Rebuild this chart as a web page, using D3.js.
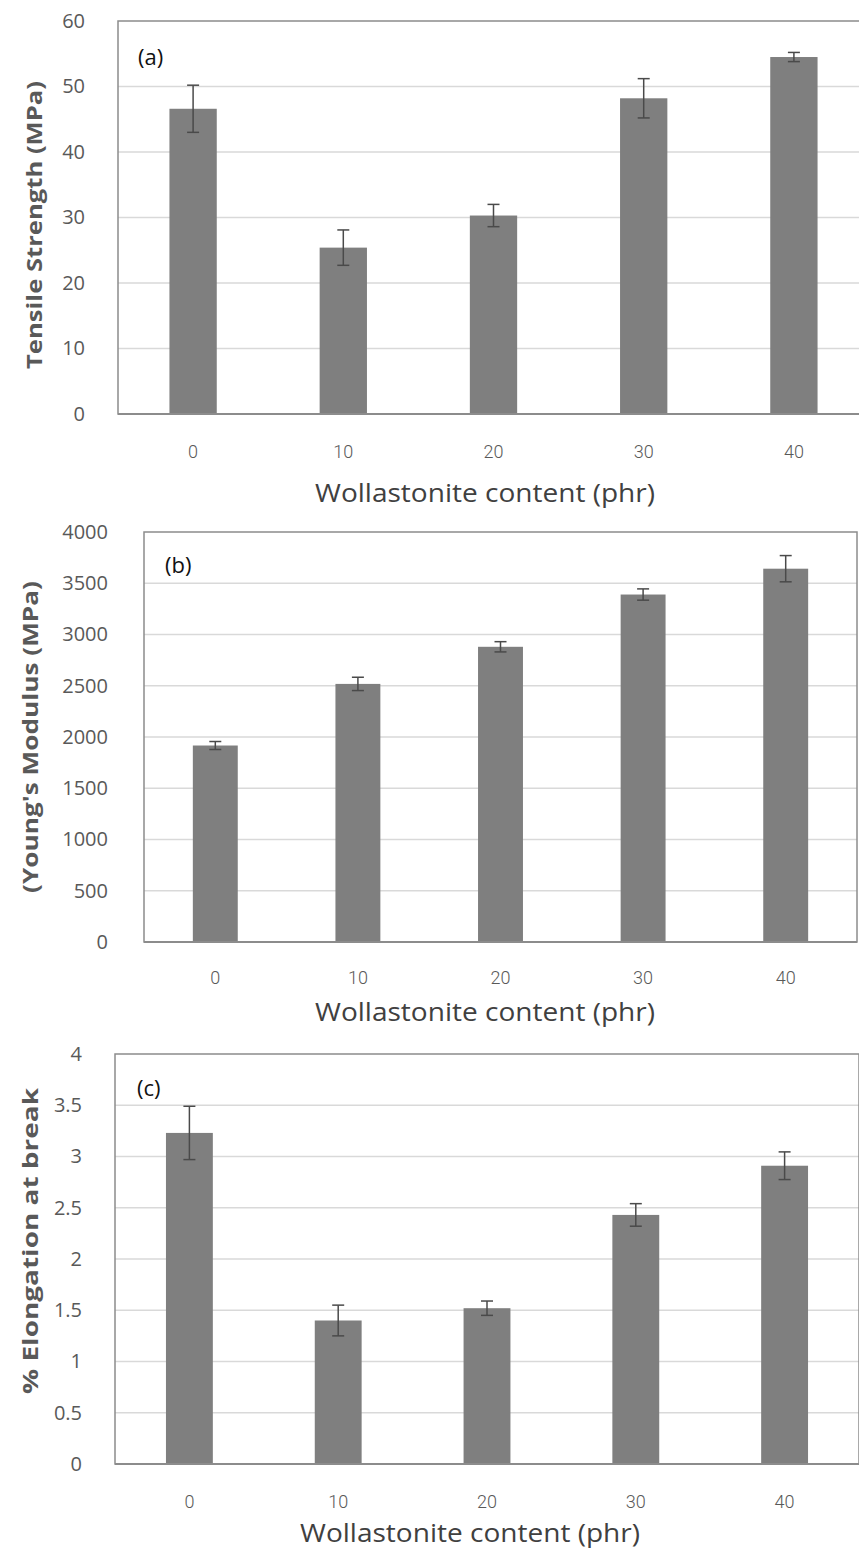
<!DOCTYPE html>
<html>
<head>
<meta charset="utf-8">
<script src="https://cdn.jsdelivr.net/npm/d3@7"></script>
<style>
  body { margin: 0; background: #fff; }
  svg { display: block; }
</style>
</head>
<body>
<div id="chart"></div>
<script>
// wollastonite content (phr)
var categories = ["0", "10", "20", "30", "40"];

// (a) tensile strength, MPa
var tensile = [46.6, 25.4, 30.3, 48.2, 54.5];
var tensileErr = [3.6, 2.7, 1.7, 3.0, 0.7];
var tensileTicks = [0, 10, 20, 30, 40, 50, 60];

// (b) young's modulus, MPa
var modulus = [1917, 2518, 2880, 3390, 3642];
var modulusErr = [39, 65, 50, 55, 128];
var modulusTicks = [0, 500, 1000, 1500, 2000, 2500, 3000, 3500, 4000];

// (c) elongation at break, %
var elongation = [3.23, 1.40, 1.52, 2.43, 2.91];
var elongationErr = [0.26, 0.15, 0.07, 0.11, 0.135];
var elongationTicks = [0, 0.5, 1, 1.5, 2, 2.5, 3, 3.5, 4];

var W = 859, H = 1549;
var barColor = "#7f7f7f";
var gridColor = "#d9d9d9";
var textGrey = "#595959";
var errColor = "#4a4a4a";

var svg = d3.select("#chart").append("svg").attr("width", W).attr("height", H);

var panels = [
    {values: tensile, errs: tensileErr, ticks: tensileTicks, label: "(a)",
     title: "Tensile Strength (MPa)", left: 118, right: 869, top: 21, bottom: 414,
     tickRight: 85, tickY: 452, titleX: 485, titleY: 493, labelX: 138, labelY: 57,
     yTitleX: 34, yTitleY: 225, yTitleLen: 288},
    {values: modulus, errs: modulusErr, ticks: modulusTicks, label: "(b)",
     title: "(Young's Modulus (MPa)", left: 144, right: 857, top: 532, bottom: 942,
     tickRight: 108, tickY: 978, titleX: 485, titleY: 1012, labelX: 165, labelY: 565,
     yTitleX: 30, yTitleY: 737, yTitleLen: 312},
    {values: elongation, errs: elongationErr, ticks: elongationTicks, label: "(c)",
     title: "% Elongation at break", left: 115, right: 859, top: 1054, bottom: 1464,
     tickRight: 82, tickY: 1502, titleX: 470, titleY: 1533, labelX: 137, labelY: 1088,
     yTitleX: 30, yTitleY: 1241, yTitleLen: 306}
];

panels.forEach(function(p) {
    var g = svg.append("g");
    var tmax = p.ticks[p.ticks.length - 1];

    var x = d3.scaleBand()
        .domain(categories)
        .range([p.left, p.right])
        .paddingInner(0.685)
        .paddingOuter(0.3425);
    var y = d3.scaleLinear()
        .domain([0, tmax])
        .range([p.bottom, p.top]);

    // gridlines
    g.append("g")
        .selectAll("line")
        .data(p.ticks.slice(1, -1))
        .enter().append("line")
        .attr("x1", p.left).attr("x2", p.right)
        .attr("y1", function(d) { return y(d); })
        .attr("y2", function(d) { return y(d); })
        .attr("stroke", gridColor)
        .attr("stroke-width", 1.5);

    // plot frame
    g.append("rect")
        .attr("x", p.left).attr("y", p.top)
        .attr("width", p.right - p.left).attr("height", p.bottom - p.top)
        .attr("fill", "none")
        .attr("stroke", "#8c8c8c")
        .attr("stroke-width", 1.5);

    // bars
    g.append("g")
        .selectAll("rect")
        .data(p.values)
        .enter().append("rect")
        .attr("x", function(d, i) { return x(categories[i]); })
        .attr("y", function(d) { return y(d); })
        .attr("width", x.bandwidth())
        .attr("height", function(d) { return p.bottom - y(d); })
        .attr("fill", barColor);

    // error bars
    var eb = g.append("g")
        .selectAll("g")
        .data(p.values)
        .enter().append("g")
        .attr("stroke", errColor)
        .attr("stroke-width", 1.5);
    eb.append("line")
        .attr("x1", function(d, i) { return x(categories[i]) + x.bandwidth() / 2; })
        .attr("x2", function(d, i) { return x(categories[i]) + x.bandwidth() / 2; })
        .attr("y1", function(d, i) { return y(d - p.errs[i]); })
        .attr("y2", function(d, i) { return y(d + p.errs[i]); });
    [-1, 1].forEach(function(s) {
        eb.append("line")
            .attr("x1", function(d, i) { return x(categories[i]) + x.bandwidth() / 2 - 6; })
            .attr("x2", function(d, i) { return x(categories[i]) + x.bandwidth() / 2 + 6; })
            .attr("y1", function(d, i) { return y(d + s * p.errs[i]); })
            .attr("y2", function(d, i) { return y(d + s * p.errs[i]); });
    });

    // x axis line
    g.append("line")
        .attr("x1", p.left).attr("x2", p.right)
        .attr("y1", p.bottom).attr("y2", p.bottom)
        .attr("stroke", "#8c8c8c")
        .attr("stroke-width", 2);

    // y tick labels
    var yAxis = g.append("g")
        .attr("transform", "translate(" + p.tickRight + ",0)")
        .call(d3.axisLeft(y).tickValues(p.ticks).tickSize(0).tickPadding(0)
            .tickFormat(function(d) { return "" + d; }));
    yAxis.select(".domain").remove();
    yAxis.selectAll("text")
        .attr("font-family", "Open Sans")
        .attr("font-size", "20px")
        .attr("fill", textGrey);

    // x tick labels
    var xAxis = g.append("g")
        .attr("transform", "translate(0," + p.tickY + ")")
        .call(d3.axisBottom(x).tickSize(0).tickPadding(0));
    xAxis.select(".domain").remove();
    xAxis.selectAll("text")
        .attr("dy", "0.35em")
        .attr("font-family", "Roboto")
        .attr("font-weight", 300)
        .attr("font-size", "18px")
        .attr("fill", textGrey);

    // x title
    g.append("text")
        .attr("x", p.titleX)
        .attr("y", p.titleY)
        .attr("dy", "0.35em")
        .attr("text-anchor", "middle")
        .attr("font-family", "Open Sans")
        .attr("font-size", "25px")
        .attr("textLength", 340)
        .attr("lengthAdjust", "spacingAndGlyphs")
        .attr("fill", "#404040")
        .text("Wollastonite content (phr)");

    // y title
    g.append("text")
        .attr("transform", "translate(" + p.yTitleX + "," + p.yTitleY + ") rotate(-90)")
        .attr("text-anchor", "middle")
        .attr("dy", "0.35em")
        .attr("font-family", "Open Sans")
        .attr("font-weight", "bold")
        .attr("font-size", "22px")
        .attr("textLength", p.yTitleLen)
        .attr("lengthAdjust", "spacingAndGlyphs")
        .attr("fill", textGrey)
        .text(p.title);

    // panel label
    g.append("text")
        .attr("x", p.labelX)
        .attr("y", p.labelY)
        .attr("dy", "0.35em")
        .attr("font-family", "Open Sans")
        .attr("font-size", "22px")
        .attr("fill", "#111")
        .text(p.label);
});
</script>
</body>
</html>
